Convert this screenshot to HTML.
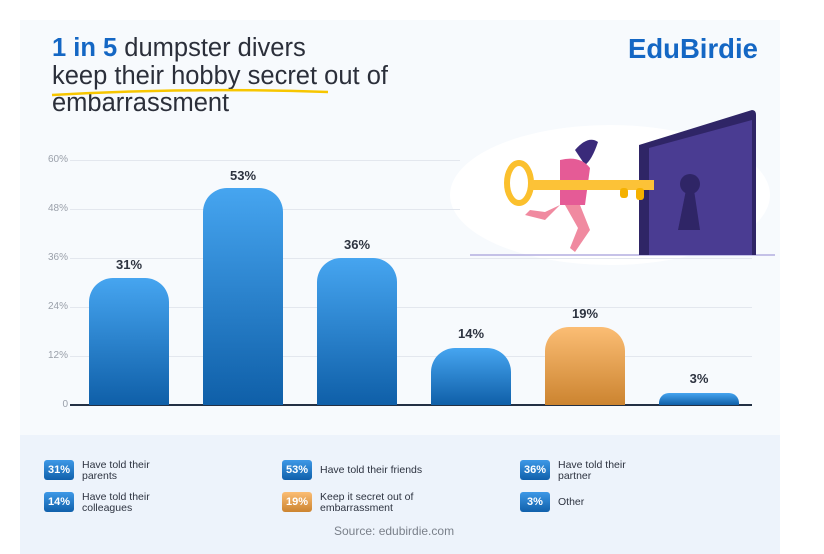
<!DOCTYPE html>
<html><head><meta charset="utf-8"><style>
body{margin:0;width:824px;height:554px;background:#fff;font-family:"Liberation Sans",sans-serif;position:relative;overflow:hidden}
.card{position:absolute;left:20px;top:20px;width:760px;height:534px;background:#f7fafd}
.leg{position:absolute;left:20px;top:435px;width:760px;height:119px;background:#edf3fb}
.t{position:absolute;left:52px;font-size:25.5px;color:#2b2f3a;white-space:nowrap}
.ax{position:absolute;left:30px;width:38px;text-align:right;font-size:10px;color:#9aa0aa}
.g{position:absolute;left:70px;width:682px;height:1px;background:#e3e7ee}
.bar{position:absolute;width:80px;border-radius:24px 24px 0 0;background:linear-gradient(#46a5f0,#0f5fa8)}
.v{position:absolute;width:80px;text-align:center;font-size:13px;font-weight:bold;color:#2d3340}
.b{position:absolute;width:30px;height:20px;border-radius:3px;background:linear-gradient(#3d98e6,#1060ab);color:#fff;font-size:11px;font-weight:bold;text-align:center;line-height:20px}
.lt{position:absolute;font-size:10.5px;color:#2d3340;line-height:11px}
</style></head><body>
<div class="card"></div>
<div class="leg"></div>
<div class="t" style="top:34px"><b style="color:#1467c4">1 in 5</b> dumpster divers</div>
<div class="t" style="top:62px">keep their hobby secret out of</div>
<div class="t" style="top:89px">embarrassment</div>
<svg style="position:absolute;left:0;top:0" width="824" height="554">
<path d="M52 95 Q190 87 328 92" stroke="#f7c600" stroke-width="2.5" fill="none"/>
<ellipse cx="610" cy="195" rx="160" ry="70" fill="#fff"/>
<line x1="470" y1="255" x2="775" y2="255" stroke="#b4aee0" stroke-width="1.5"/>
<path d="M639 145 L752 110 Q756 110 756 115 L756 255 L639 255 Z" fill="#2f2566"/>
<path d="M649 148 L752 120 L752 255 L649 255 Z" fill="#4a3c92"/>
<circle cx="690" cy="184" r="10" fill="#2f2566"/>
<path d="M686 190 L694 190 L700 230 L678 230 Z" fill="#2f2566"/>
<path d="M575 150 Q588 135 598 142 Q592 160 585 165 Z" fill="#3a2a7a"/>
<path d="M560 160 Q580 155 590 168 L585 205 L560 205 Z" fill="#e55b96"/>
<path d="M565 205 L580 205 L590 230 L575 252 L570 248 L578 228 Z M560 205 L545 220 L525 215 L530 210 L545 212 Z" fill="#f08aa0"/>
<ellipse cx="519" cy="183" rx="12" ry="20" fill="none" stroke="#fbc02d" stroke-width="6"/>
<rect x="530" y="180" width="124" height="10" fill="#fcc237"/>
<rect x="620" y="188" width="8" height="10" rx="3" fill="#f5b100"/><rect x="636" y="188" width="8" height="12" rx="3" fill="#f5b100"/>
</svg>
<div style="position:absolute;left:628px;top:33px;font-size:27.5px;font-weight:bold;color:#1467c4">EduBirdie</div>
<div class="g" style="top:160px;width:390px"></div><div class="g" style="top:209px;width:390px"></div>
<div class="g" style="top:258px"></div><div class="g" style="top:307px"></div><div class="g" style="top:356px"></div>
<div style="position:absolute;left:70px;top:404px;width:682px;height:2px;background:#233044"></div>
<div class="ax" style="top:154px">60%</div><div class="ax" style="top:203px">48%</div><div class="ax" style="top:252px">36%</div><div class="ax" style="top:301px">24%</div><div class="ax" style="top:350px">12%</div><div class="ax" style="top:399px">0</div>
<div class="bar" style="left:89px;top:278px;height:127px"></div><div class="v" style="left:89px;top:257px">31%</div>
<div class="bar" style="left:203px;top:188px;height:217px"></div><div class="v" style="left:203px;top:168px">53%</div>
<div class="bar" style="left:317px;top:258px;height:147px"></div><div class="v" style="left:317px;top:237px">36%</div>
<div class="bar" style="left:431px;top:348px;height:57px"></div><div class="v" style="left:431px;top:326px">14%</div>
<div class="bar" style="left:545px;top:327px;height:78px;background:linear-gradient(#fbbd74,#cc8430)"></div><div class="v" style="left:545px;top:306px">19%</div>
<div class="bar" style="left:659px;top:393px;height:12px;border-radius:10px 10px 0 0"></div><div class="v" style="left:659px;top:371px">3%</div>
<div class="b" style="left:44px;top:460px">31%</div><div class="lt" style="left:82px;top:460px">Have told their<br>parents</div>
<div class="b" style="left:282px;top:460px">53%</div><div class="lt" style="left:320px;top:465px">Have told their friends</div>
<div class="b" style="left:520px;top:460px">36%</div><div class="lt" style="left:558px;top:460px">Have told their<br>partner</div>
<div class="b" style="left:44px;top:492px">14%</div><div class="lt" style="left:82px;top:492px">Have told their<br>colleagues</div>
<div class="b" style="left:282px;top:492px;background:linear-gradient(#fbbd74,#cc8430)">19%</div><div class="lt" style="left:320px;top:492px">Keep it secret out of<br>embarrassment</div>
<div class="b" style="left:520px;top:492px">3%</div><div class="lt" style="left:558px;top:497px">Other</div>
<div style="position:absolute;left:334px;top:524px;font-size:12px;color:#7a808a">Source: edubirdie.com</div>
</body></html>
